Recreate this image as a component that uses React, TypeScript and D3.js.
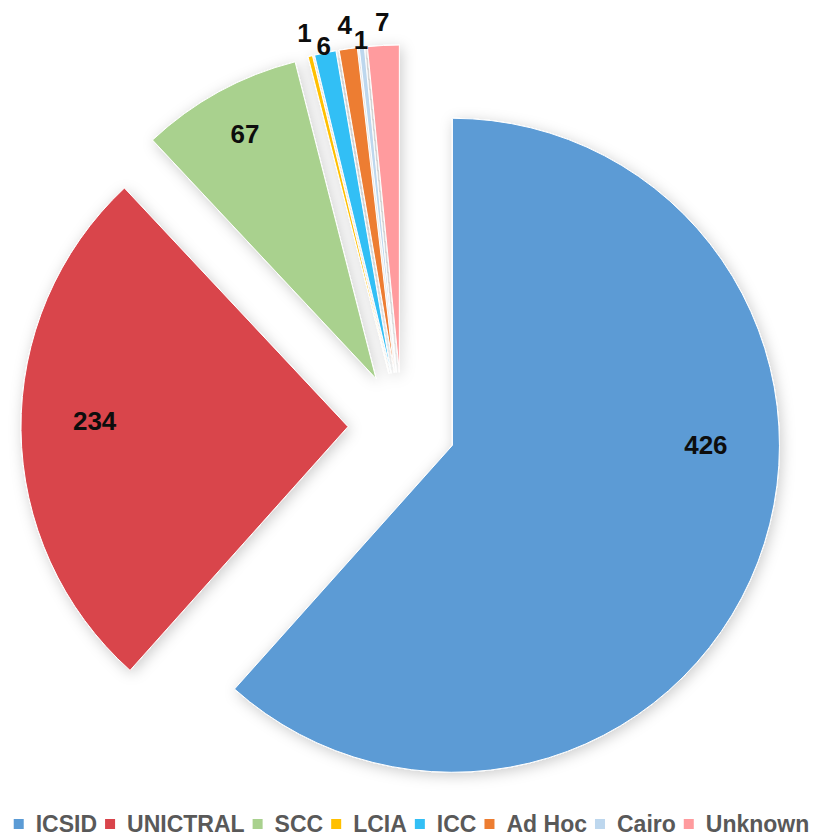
import React, { useEffect, useRef } from "react";
import * as d3 from "d3";

// Categories, the counts printed on the slices, and the share of the circle each slice occupies in the picture
const categories = ["ICSID", "UNICTRAL", "SCC", "LCIA", "ICC", "Ad Hoc", "Cairo", "Unknown"];
const caseCounts = [426, 234, 67, 1, 6, 4, 1, 7];
const sliceShares = [61.6, 26.4, 8.0, 0.22, 1.06, 0.89, 0.25, 1.56];
const sliceColors = ["#5B9BD5", "#D9444B", "#A9D18E", "#FFC000", "#33BFF5", "#ED7D31", "#BDD7EE", "#FF9B9E"];

const W = 815;
const H = 838;

export default function App() {
  const ref = useRef<SVGSVGElement>(null);

  useEffect(() => {
    const svg = d3.select(ref.current);
    svg.selectAll("*").remove();

    const cx = 402;
    const cy = 426;
    const r = 327;
    const explode = 54;

    const defs = svg.append("defs");
    const f = defs
      .append("filter")
      .attr("id", "sliceShadow")
      .attr("x", "-20%")
      .attr("y", "-20%")
      .attr("width", "140%")
      .attr("height", "140%");
    f.append("feDropShadow")
      .attr("dx", 2)
      .attr("dy", 3)
      .attr("stdDeviation", 7)
      .attr("flood-color", "#000")
      .attr("flood-opacity", 0.2);

    const pie = d3.pie<number>().value((d) => d).sort(null);
    const arcs = pie(sliceShares);
    const arc = d3.arc<d3.PieArcDatum<number>>().innerRadius(0).outerRadius(r);

    const root = svg.append("g").attr("transform", `translate(${cx},${cy})`);
    const slicesG = root.append("g").attr("filter", "url(#sliceShadow)");

    const offset = (a: d3.PieArcDatum<number>) => {
      const mid = (a.startAngle + a.endAngle) / 2;
      return [explode * Math.sin(mid), -explode * Math.cos(mid)];
    };

    slicesG
      .selectAll("path")
      .data(arcs)
      .join("path")
      .attr("d", (d) => arc(d) as string)
      .attr("transform", (d) => {
        const [ox, oy] = offset(d);
        return `translate(${ox},${oy})`;
      })
      .attr("fill", (d, i) => sliceColors[i])
      .attr("stroke", "#fff")
      .attr("stroke-width", 1);

    // data labels
    const labelsG = root.append("g");
    arcs.forEach((d, i) => {
      const [ox, oy] = offset(d);
      const span = d.endAngle - d.startAngle;
      const mid = (d.startAngle + d.endAngle) / 2;
      let la: number;
      let rad: number;
      if (span > (10 * Math.PI) / 180) {
        la = d.startAngle + Math.min(span * 0.52, Math.PI / 2);
        rad = span > Math.PI / 3 ? 0.775 * r : 0.85 * r;
      } else {
        la = mid;
        rad = r + (i % 2 === 1 ? 24 : 7);
      }
      labelsG
        .append("text")
        .attr("x", ox + rad * Math.sin(la))
        .attr("y", oy - rad * Math.cos(la))
        .attr("text-anchor", "middle")
        .attr("dominant-baseline", "central")
        .attr("font-size", 26)
        .attr("font-weight", "bold")
        .attr("fill", "#0d0d0d")
        .text(String(caseCounts[i]));
    });

    // legend
    const legend = svg.append("g");
    const baseline = 832;
    const marker = 10;
    let x = 0;
    categories.forEach((c, i) => {
      const item = legend.append("g");
      item
        .append("rect")
        .attr("x", x)
        .attr("y", baseline - 13)
        .attr("width", marker)
        .attr("height", marker)
        .attr("fill", sliceColors[i]);
      const t = item
        .append("text")
        .attr("x", x + marker + 12)
        .attr("y", baseline)
        .attr("font-size", 23)
        .attr("font-weight", "bold")
        .attr("fill", "#595959")
        .text(c);
      const w = (t.node() as SVGTextElement).getComputedTextLength();
      x += marker + 12 + w + 8;
    });
    const total = x - 8;
    legend.attr("transform", `translate(${(W - total) / 2 + 4},0)`);
  }, []);

  return (
    <svg
      ref={ref}
      width={W}
      height={H}
      style={{
        position: "absolute",
        left: 0,
        top: 0,
        background: "#fff",
        fontFamily: "'Liberation Sans', Arial, Helvetica, sans-serif",
      }}
    />
  );
}
